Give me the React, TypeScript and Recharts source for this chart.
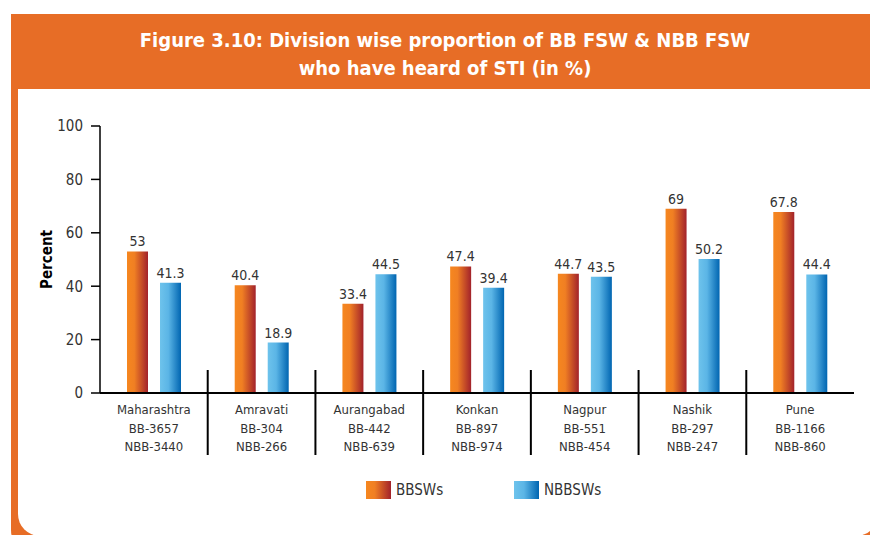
import React from "react";
import { BarChart, Bar, XAxis, YAxis, LabelList } from "recharts";

const divisions = ["Maharashtra", "Amravati", "Aurangabad", "Konkan", "Nagpur", "Nashik", "Pune"];
const bbSamples = ["BB-3657", "BB-304", "BB-442", "BB-897", "BB-551", "BB-297", "BB-1166"];
const nbbSamples = ["NBB-3440", "NBB-266", "NBB-639", "NBB-974", "NBB-454", "NBB-247", "NBB-860"];
const bbswValues = [53, 40.4, 33.4, 47.4, 44.7, 69, 67.8];
const nbbswValues = [41.3, 18.9, 44.5, 39.4, 43.5, 50.2, 44.4];
const yTicks = [0, 20, 40, 60, 80, 100];

const data = divisions.map((d, i) => ({
    name: d,
    bb: bbSamples[i],
    nbb: nbbSamples[i],
    BBSWs: bbswValues[i],
    NBBSWs: nbbswValues[i],
}));

const FONT = "'Liberation Sans Narrow', 'DejaVu Sans Condensed', 'Roboto', sans-serif";
const ORANGE = "#E76D26";

const W = 870;
const H = 535;
const margin = { top: 126, right: 16, bottom: 72, left: 40 };
const Y_W = 60;
const plotW = W - margin.left - Y_W - margin.right;
const halfBand = plotW / divisions.length / 2;

const CategoryTick = (props: any) => {
    const { x, y, payload, index } = props;
    const row = data[index] || data.find((r) => r.name === payload.value);
    return (
        <g>
            <text x={x} y={y} textAnchor="middle" fill="#333" fontSize={13} fontFamily={FONT}>
                <tspan x={x} dy={21}>{payload.value}</tspan>
                <tspan x={x} dy={18.5}>{row ? row.bb : ""}</tspan>
                <tspan x={x} dy={18.5}>{row ? row.nbb : ""}</tspan>
            </text>
            {index < divisions.length - 1 && (
                <line x1={x + halfBand} x2={x + halfBand} y1={y - 23} y2={y + 62} stroke="#000" strokeWidth={2} />
            )}
        </g>
    );
};

export default function App() {
    return (
        <div style={{ position: "absolute", left: 0, top: 0, width: W, height: H, overflow: "hidden", background: "#fff", fontFamily: FONT }}>
            <div style={{ position: "absolute", left: 11, top: 14, width: 880, height: 540, background: ORANGE, borderBottomLeftRadius: 24 }} />
            <div style={{ position: "absolute", left: 18, top: 89, width: 860, height: 447, background: "#fff", borderBottomLeftRadius: 22, borderBottomRightRadius: 22 }} />
            <div style={{ position: "absolute", left: 11, top: 26, width: 868, textAlign: "center", color: "#fff", fontWeight: 700, fontSize: 20, lineHeight: "28px" }}>
                Figure 3.10: Division wise proportion of BB FSW &amp; NBB FSW
                <br />
                who have heard of STI (in %)
            </div>
            <div style={{ position: "absolute", left: 0, top: 0 }}>
                <BarChart width={W} height={H} data={data} margin={margin} barSize={21} barGap={12}>
                    <defs>
                        <linearGradient id="gradBB" x1="0" y1="0" x2="1" y2="0">
                            <stop offset="0%" stopColor="#F6871F" />
                            <stop offset="35%" stopColor="#F07F23" />
                            <stop offset="100%" stopColor="#A2222B" />
                        </linearGradient>
                        <linearGradient id="gradNBB" x1="0" y1="0" x2="1" y2="0">
                            <stop offset="0%" stopColor="#6EC3EC" />
                            <stop offset="40%" stopColor="#5BB5E6" />
                            <stop offset="100%" stopColor="#0065B1" />
                        </linearGradient>
                    </defs>
                    <XAxis
                        dataKey="name"
                        tick={<CategoryTick />}
                        tickLine={false}
                        tickSize={0}
                        tickMargin={0}
                        height={70}
                        interval={0}
                        axisLine={{ stroke: "#000", strokeWidth: 2 }}
                    />
                    <YAxis
                        width={Y_W}
                        domain={[0, 100]}
                        ticks={yTicks}
                        tickSize={9}
                        tickMargin={8}
                        tick={{ fill: "#333", fontSize: 15, fontFamily: FONT }}
                        tickLine={{ stroke: "#000", strokeWidth: 1.5 }}
                        axisLine={{ stroke: "#000", strokeWidth: 1.5 }}
                        label={{ value: "Percent", angle: -90, position: "insideLeft", offset: 7, style: { fontWeight: 700, fontSize: 15, fill: "#000", fontFamily: FONT, textAnchor: "middle" } }}
                    />
                    <Bar dataKey="BBSWs" fill="url(#gradBB)" isAnimationActive={false}>
                        <LabelList dataKey="BBSWs" position="top" offset={5} fill="#333" fontSize={14} fontFamily={FONT} />
                    </Bar>
                    <Bar dataKey="NBBSWs" fill="url(#gradNBB)" isAnimationActive={false}>
                        <LabelList dataKey="NBBSWs" position="top" offset={5} fill="#333" fontSize={14} fontFamily={FONT} />
                    </Bar>
                </BarChart>
            </div>
            <div style={{ position: "absolute", left: 366, top: 481, display: "flex", alignItems: "center", fontSize: 15, color: "#333" }}>
                <span style={{ width: 25, height: 18, background: "linear-gradient(to right, #F6871F 0%, #F07F23 35%, #A2222B 100%)" }} />
                <span style={{ marginLeft: 5, width: 118 }}>BBSWs</span>
                <span style={{ width: 25, height: 18, background: "linear-gradient(to right, #6EC3EC 0%, #5BB5E6 40%, #0065B1 100%)" }} />
                <span style={{ marginLeft: 5 }}>NBBSWs</span>
            </div>
        </div>
    );
}
